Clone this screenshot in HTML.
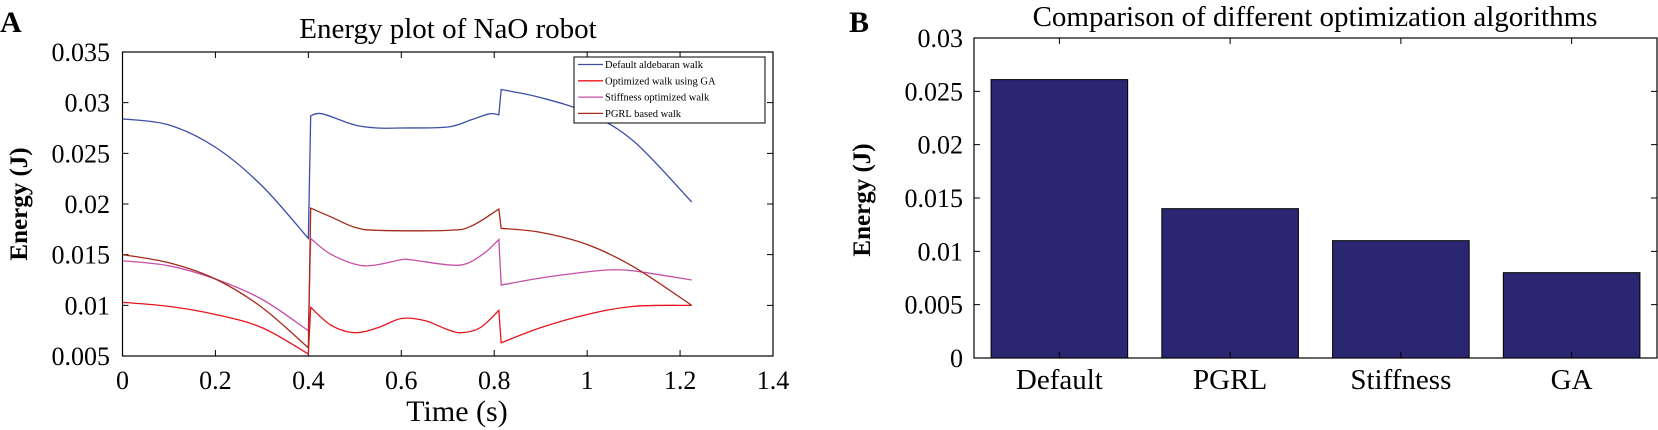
<!DOCTYPE html>
<html><head><meta charset="utf-8"><style>
html,body{margin:0;padding:0;background:#fff;}
svg{display:block;font-family:"Liberation Serif",serif;}
</style></head><body>
<svg id="fig" width="1658" height="430" viewBox="0 0 1658 430" xmlns="http://www.w3.org/2000/svg">
<text x="0" y="32" font-size="30" font-weight="bold">A</text>
<text x="448" y="38" font-size="29" text-anchor="middle">Energy plot of NaO robot</text>
<text transform="translate(27,204) rotate(-90)" font-size="25" font-weight="bold" text-anchor="middle">Energy (J)</text>
<text x="457" y="421" font-size="30" text-anchor="middle">Time (s)</text>
<g id="lineChart"></g>
<text x="849" y="32" font-size="30" font-weight="bold">B</text>
<text x="1315" y="26" font-size="29" text-anchor="middle">Comparison of different optimization algorithms</text>
<text transform="translate(870,200) rotate(-90)" font-size="25" font-weight="bold" text-anchor="middle">Energy (J)</text>
<g id="barChart"></g>
</svg>
<script>
const timeDefault=[0,0.1,0.2,0.3,0.4,0.405,0.43,0.5,0.55,0.6,0.7,0.75,0.79,0.81,0.815,0.9,1.0,1.1,1.225];
const energyDefault=[0.0284,0.0278,0.0256,0.0218,0.0166,0.0287,0.0289,0.0278,0.0275,0.0275,0.0276,0.0283,0.0289,0.0288,0.0313,0.0305,0.0290,0.0262,0.0202];
const timeGA=[0,0.1,0.2,0.3,0.4,0.405,0.45,0.5,0.55,0.6,0.65,0.7,0.73,0.77,0.81,0.815,0.9,1.0,1.1,1.225];
const energyGA=[0.0103,0.0099,0.0091,0.0078,0.0052,0.0098,0.0080,0.0073,0.0078,0.0087,0.0085,0.0076,0.0073,0.0078,0.0095,0.0063,0.0078,0.0091,0.0099,0.0100];
const timeStiff=[0,0.1,0.2,0.3,0.4,0.405,0.45,0.52,0.6,0.62,0.7,0.74,0.78,0.81,0.815,0.9,1.0,1.05,1.1,1.225];
const energyStiff=[0.0144,0.0139,0.0126,0.0106,0.0075,0.0166,0.0150,0.0139,0.0145,0.0145,0.0140,0.0141,0.0152,0.0165,0.0120,0.0127,0.0133,0.0135,0.0134,0.0125];
const timePGRL=[0,0.1,0.2,0.3,0.4,0.405,0.45,0.5,0.55,0.7,0.75,0.81,0.815,0.9,1.0,1.1,1.225];
const energyPGRL=[0.0150,0.0142,0.0126,0.0098,0.0058,0.0196,0.0187,0.0177,0.0174,0.0174,0.0178,0.0195,0.0176,0.0172,0.0160,0.0138,0.0100];
const seriesNames=["Default aldebaran walk","Optimized walk using GA","Stiffness optimized walk","PGRL based walk"];
const xTicks=[0,0.2,0.4,0.6,0.8,1,1.2,1.4];
const xTickLabels=["0","0.2","0.4","0.6","0.8","1","1.2","1.4"];
const yTicks=[0.005,0.01,0.015,0.02,0.025,0.03,0.035];
const yTickLabels=["0.005","0.01","0.015","0.02","0.025","0.03","0.035"];

const barCategories=["Default","PGRL","Stiffness","GA"];
const barValues=[0.0261,0.014,0.011,0.008];
const barYTicks=[0,0.005,0.01,0.015,0.02,0.025,0.03];
const barYTickLabels=["0","0.005","0.01","0.015","0.02","0.025","0.03"];

const NS="http://www.w3.org/2000/svg";
function mk(tag,attrs,parent){const e=document.createElementNS(NS,tag);for(const k in attrs)e.setAttribute(k,attrs[k]);parent.appendChild(e);return e;}

// Line chart
const L={x0:122.5,x1:773,y0:356,y1:52};
const lx=v=>L.x0+(v-0)/(1.4-0)*(L.x1-L.x0);
const ly=v=>L.y0-(v-0.005)/(0.035-0.005)*(L.y0-L.y1);
const lg=document.getElementById('lineChart');
xTicks.forEach((t,i)=>{
  const x=lx(t);
  const tk=mk('path',{d:`M${x},${L.y0}v-6M${x},${L.y1}v6`,stroke:'#000','stroke-width':1},lg);
  
  
  const tx=mk('text',{x:x,y:389,'font-size':26,'text-anchor':'middle'},lg);
  tx.textContent=xTickLabels[i];
  
  
});
yTicks.forEach((t,i)=>{
  const y=ly(t);
  const tk=mk('path',{d:`M${L.x0},${y}h6M${L.x1},${y}h-6`,stroke:'#000','stroke-width':1},lg);
  
  
  const tx=mk('text',{x:110,y:y+9,'font-size':26,'text-anchor':'end'},lg);
  tx.textContent=yTickLabels[i];
  
  
});
const series=[[timeDefault,energyDefault,'#3d4ea8','line-default'],[timeGA,energyGA,'#e8141c','line-ga'],[timeStiff,energyStiff,'#c64fa8','line-stiffness'],[timePGRL,energyPGRL,'#a52a1a','line-pgrl']];
function smoothPath(xs,ys){
  const P=xs.map((t,i)=>[lx(t),ly(ys[i])]);
  let d=`M${P[0][0]},${P[0][1]}`;
  for(let i=0;i<P.length-1;i++){
    const p0=P[i],p1=P[i+1];
    if(p1[0]-p0[0]<4){d+=`L${p1[0]},${p1[1]}`;continue;}
    const pm=(i>0&&p0[0]-P[i-1][0]>=4)?P[i-1]:p0;
    const p2=(i+2<P.length&&P[i+2][0]-p1[0]>=4)?P[i+2]:p1;
    const c1=[p0[0]+(p1[0]-pm[0])/6,p0[1]+(p1[1]-pm[1])/6];
    const c2=[p1[0]-(p2[0]-p0[0])/6,p1[1]-(p2[1]-p0[1])/6];
    d+=`C${c1[0]},${c1[1]} ${c2[0]},${c2[1]} ${p1[0]},${p1[1]}`;
  }
  return d;
}
series.forEach(s=>{
  const p=mk('path',{d:smoothPath(s[0],s[1]),fill:'none',stroke:s[2],'stroke-width':1.3},lg);
  
  
});
const frame=mk('rect',{x:L.x0,y:L.y1,width:L.x1-L.x0,height:L.y0-L.y1,fill:'none',stroke:'#000','stroke-width':1.2},lg);


const leg=mk('g',{},lg);


mk('rect',{x:574,y:57,width:191,height:66,fill:'#fff',stroke:'#000','stroke-width':1},leg);
series.forEach((s,i)=>{
  const yy=68+i*16.3;
  const ln=mk('line',{x1:578,x2:603,y1:yy-3.5,y2:yy-3.5,stroke:s[2],'stroke-width':1.3},leg);
  
  
  const t=mk('text',{x:605,y:yy,'font-size':10.5},leg);
  t.textContent=seriesNames[i];
  
  
});

// Bar chart
const B={x0:974,x1:1657,y0:358,y1:38};
const by=v=>B.y0-v/0.03*(B.y0-B.y1);
const bg=document.getElementById('barChart');
const slot=(B.x1-B.x0)/barCategories.length;
barCategories.forEach((c,i)=>{
  const cx=B.x0+slot*(i+0.5);
  const w=slot*0.8;
  const r=mk('rect',{x:cx-w/2,y:by(barValues[i]),width:w,height:B.y0-by(barValues[i]),fill:'#2b2672',stroke:'#000','stroke-width':1},bg);
  
  
  const tk=mk('path',{d:`M${cx},${B.y0}v-6M${cx},${B.y1}v6`,stroke:'#000','stroke-width':1},bg);
  
  
  const t=mk('text',{x:cx,y:389,'font-size':29,'text-anchor':'middle'},bg);
  t.textContent=c;
  
  
});
barYTicks.forEach((t,i)=>{
  const y=by(t);
  const tk=mk('path',{d:`M${B.x0},${y}h6M${B.x1},${y}h-6`,stroke:'#000','stroke-width':1},bg);
  
  
  const tx=mk('text',{x:963,y:y+9,'font-size':26,'text-anchor':'end'},bg);
  tx.textContent=barYTickLabels[i];
  
  
});
const bf=mk('rect',{x:B.x0,y:B.y1,width:B.x1-B.x0,height:B.y0-B.y1,fill:'none',stroke:'#000','stroke-width':1.2},bg);


</script>
</body></html>
